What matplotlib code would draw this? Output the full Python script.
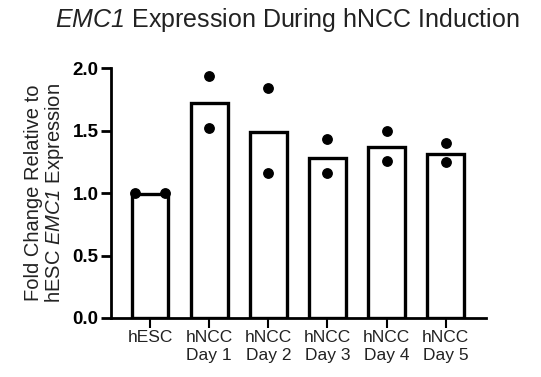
import matplotlib
matplotlib.use("Agg")
import matplotlib.pyplot as plt
import numpy as np

plt.rcParams['font.family'] = ['Liberation Sans', 'DejaVu Sans']
plt.rcParams['mathtext.fontset'] = 'custom'
plt.rcParams['mathtext.rm'] = 'Liberation Sans'
plt.rcParams['mathtext.sf'] = 'Liberation Sans:italic'

categories = ["hESC", "hNCC\nDay 1", "hNCC\nDay 2", "hNCC\nDay 3", "hNCC\nDay 4", "hNCC\nDay 5"]
means = [0.99, 1.72, 1.49, 1.28, 1.37, 1.31]
rep1 = [1.0, 1.94, 1.84, 1.43, 1.50, 1.40]
rep2 = [1.0, 1.52, 1.16, 1.16, 1.26, 1.25]
# horizontal jitter only where replicate points coincide
offsets1 = [-0.25, 0, 0, 0, 0, 0]
offsets2 = [0.25, 0, 0, 0, 0, 0]
yticks = [0.0, 0.5, 1.0, 1.5, 2.0]

fig = plt.figure(figsize=(5.41, 3.77), dpi=100)
ax = fig.add_axes([0.2052, 0.1565, 0.693, 0.6631])

x = np.arange(len(categories))
ax.bar(x, means, width=0.62, facecolor='white', edgecolor='black', linewidth=2.4, zorder=2)
ax.scatter(x + np.array(offsets1), rep1, s=46, color='black', zorder=3)
ax.scatter(x + np.array(offsets2), rep2, s=46, color='black', zorder=3)

ax.set_xlim(-0.66, 5.68)
ax.set_ylim(0, 2.0)
ax.set_yticks(yticks)
ax.set_yticklabels([f"{v:.1f}" for v in yticks], fontweight='bold', fontsize=13.5)
ax.set_xticks(x)
ax.set_xticklabels(categories, fontsize=12.5, linespacing=1.2, color='#222222')

for s in ['top', 'right']:
    ax.spines[s].set_visible(False)
for s in ['left', 'bottom']:
    ax.spines[s].set_linewidth(2.0)
ax.tick_params(axis='y', length=7, width=2.0, pad=2)
ax.tick_params(axis='x', length=7, width=1.5, pad=2)

ax.set_ylabel("Fold Change Relative to\nhESC $\\mathsf{EMC1}$ Expression", fontsize=14.5, labelpad=5, linespacing=1.0, color='#222222')
fig.text(0.5305, 0.947, "$\\mathsf{EMC1}$ Expression During hNCC Induction",
         fontsize=18, color='#222222', ha='center', va='center')

fig.savefig("out.png", dpi=100)
